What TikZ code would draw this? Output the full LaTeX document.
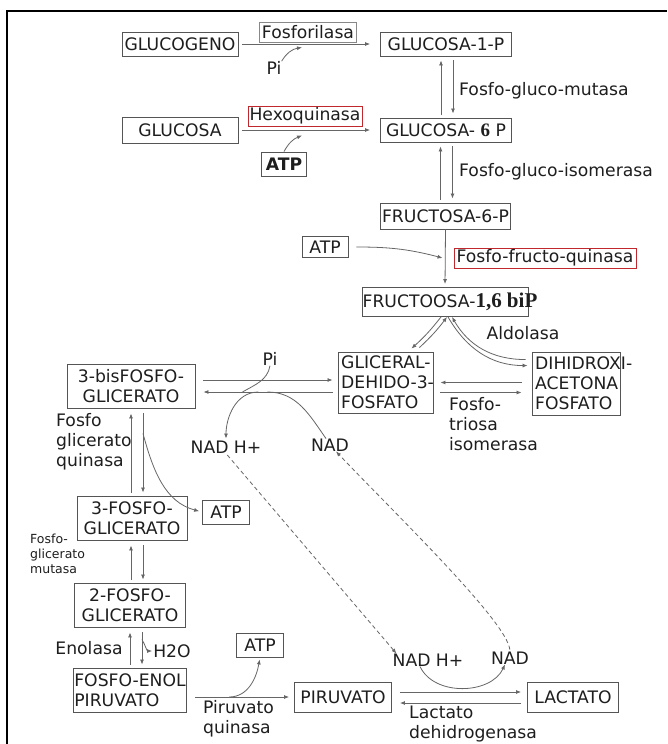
\documentclass[tikz,border=0pt]{standalone}
\usepackage{fontspec}
\setmainfont{DejaVu Sans}
\newfontfamily\serifbf{Liberation Serif}
\usetikzlibrary{arrows.meta}
\definecolor{ln}{HTML}{666666}
\definecolor{bx}{HTML}{555555}
\definecolor{tx}{HTML}{1E1E1E}
\definecolor{rd}{HTML}{C0282D}
\begin{document}
\begin{tikzpicture}[x=1pt,y=-1pt,
  every node/.style={text=tx, font=\fontsize{17.2}{20}\selectfont},
  box/.style={draw=bx, line width=0.9pt, inner sep=0pt, align=center},
  redbox/.style={draw=rd, line width=1pt, inner sep=0pt},
  lbl/.style={inner sep=0pt},
  smalllbl/.style={inner sep=0pt, font=\fontsize{12.5}{15}\selectfont},
  arr/.style={draw=ln, line width=0.8pt, -{Latex[length=5pt,width=4pt]}},
  lineonly/.style={draw=ln, line width=0.8pt},
  dsh/.style={dash pattern=on 4pt off 3pt}]
\useasboundingbox (0,0) rectangle (667,744);
\fill[white] (0,0) rectangle (667,744);
\draw[line width=2.5pt, black] (7,744) -- (7,11) -- (667,11);

% ---------- top ----------
\node[box, minimum width=116, minimum height=24] (glucogeno) at (180,44) {GLUCOGENO};
\node[box, draw=bx!70, minimum width=97, minimum height=20] (fosforilasa) at (308,32) {Fosforilasa};
\node[box, minimum width=131, minimum height=24] (g1p) at (446,44) {GLUCOSA-1-P};
\node[lbl] (pi1) at (274,68) {Pi};
\node[lbl, anchor=west] (mutasa) at (459,91) {Fosfo-gluco-mutasa};
\node[box, minimum width=116, minimum height=26] (glucosa) at (180,130) {GLUCOSA};
\node[redbox, minimum width=114, minimum height=20] (hexo) at (305,116) {Hexoquinasa};
\node[box, minimum width=131, minimum height=24] (g6p) at (446,130) {GLUCOSA- {\serifbf\bfseries\fontsize{19}{19}\selectfont 6} P};
\node[box, minimum width=45, minimum height=24] (atp1) at (284,164) {\bfseries ATP};
\node[lbl, anchor=west] (isomerasa) at (459,172) {Fosfo-gluco-isomerasa};
\node[box, minimum width=130, minimum height=26] (f6p) at (445.5,216) {FRUCTOSA-6-P};
\node[box, minimum width=46, minimum height=21] (atp2) at (325,247) {ATP};
\node[redbox, minimum width=182, minimum height=20] (pfk) at (545,258) {Fosfo-fructo-quinasa};
\node[box, minimum width=166, minimum height=29] (f16) at (445,302) {};
\node[lbl] (f16t) at (450,302) {FRUCTOOSA-{\serifbf\bfseries\fontsize{21}{21}\selectfont 1,6 biP}};

% ---------- middle ----------
\node[lbl] (aldolasa) at (523,333) {Aldolasa};
\node[box, minimum width=95, minimum height=61] (gald) at (385.5,382.5) {};
\node[lbl, anchor=west, align=left] (galdt) at (341,382.5) {GLICERAL-\\DEHIDO-3-\\FOSFATO};
\node[box, minimum width=88, minimum height=63] (dhap) at (576,383.5) {};
\node[lbl, anchor=west, align=left] (dhapt) at (535,383.5) {DIHIDROXI-\\ACETONA\\FOSFATO};
\node[lbl, anchor=north west, align=left] (tpi) at (449,397) {Fosfo-\\triosa\\isomerasa};
\node[box, minimum width=128, minimum height=44] (bisfg) at (131,386) {3-bisFOSFO-\\GLICERATO};
\node[lbl] (pi2) at (270,359) {Pi};
\node[lbl] (nadh1) at (226,447) {NAD H+};
\node[lbl] (nad1) at (330,445) {NAD};
\node[lbl, anchor=north west, align=left] (pgk) at (56,413) {Fosfo\\glicerato\\quinasa};
\node[box, minimum width=47, minimum height=24] (atp3) at (226,512) {ATP};
\node[box, minimum width=110, minimum height=44] (pg3) at (132,518) {3-FOSFO-\\GLICERATO};
\node[smalllbl, anchor=north west, align=left] (pgm) at (30,534) {Fosfo-\\glicerato\\mutasa};
\node[box, minimum width=111, minimum height=44] (pg2) at (130,605) {2-FOSFO-\\GLICERATO};

% ---------- bottom ----------
\node[lbl] (enolasa) at (89,648) {Enolasa};
\node[lbl] (h2o) at (172,651) {H2O};
\node[box, minimum width=112, minimum height=44, align=left, inner sep=1pt] (pep) at (130,690) {FOSFO-ENOL\\PIRUVATO};
\node[box, minimum width=47, minimum height=24] (atp4) at (260,645) {ATP};
\node[box, minimum width=97, minimum height=30] (pir) at (343,697) {PIRUVATO};
\node[box, minimum width=91, minimum height=30] (lac) at (573,697) {LACTATO};
\node[lbl, anchor=north west, align=left] (pk) at (203,700) {Piruvato\\quinasa};
\node[lbl] (nadh2) at (428,660) {NAD H+};
\node[lbl] (nad2) at (510,658) {NAD};
\node[lbl, anchor=north west, align=left] (ldh) at (409,706) {Lactato\\dehidrogenasa};

% ---------- connectors: top ----------
\draw[arr, shorten <=4pt, shorten >=10pt] (glucogeno.east) -- (g1p.west);
\coordinate (pj) at ([shift={(-6,5)}]fosforilasa.south);
\draw[arr] (pi1.north east) to[bend left=25] (pj);
\draw[arr, shorten <=4pt, shorten >=10pt] (glucosa.east) -- (glucosa.east -| g6p.west);
\coordinate (hj) at ([shift={(-3,9)}]hexo.south);
\draw[arr] (atp1.north) to[bend left=20] (hj);
\draw[arr, shorten <=3pt, shorten >=4pt] ([xshift=-5]g6p.north) -- ([xshift=-5]g1p.south);
\draw[arr, shorten <=4pt, shorten >=4pt] ([xshift=7]g1p.south) -- ([xshift=7]g6p.north);
\draw[arr, shorten <=3pt, shorten >=4pt] ([xshift=-5]f6p.north) -- ([xshift=-5]f6p.north |- g6p.south);
\draw[arr, shorten <=4pt, shorten >=4pt] ([xshift=7]f6p.north |- g6p.south) -- ([xshift=7]f6p.north);
\draw[arr, shorten >=3pt] (f6p.south) -- (f16.north);
\coordinate (pfkj) at ([xshift=-3]f6p.south |- pfk.west);
\draw[arr, shorten <=8pt] (atp2.east) to[out=0, in=165] (pfkj);

% ---------- aldolasa ----------
\draw[arr] ([xshift=-4]f16.south) to[bend left=5] ([shift={(-22,-3)}]gald.north east);
\draw[arr] ([shift={(-14,-4)}]gald.north east) to[bend right=5] ([xshift=2]f16.south);
\draw[arr] ([shift={(-6,8)}]dhap.north west) to[out=180, in=-60] ([xshift=7]f16.south);
\draw[arr] ([xshift=3]f16.south) to[out=-60, in=180] ([shift={(-4,14)}]dhap.north west);

% ---------- triose / G3P ----------
\draw[arr, shorten <=8pt, shorten >=5pt] ([yshift=6]bisfg.east) -- ([yshift=6]bisfg.east -| gald.west);
\draw[arr, shorten <=5pt, shorten >=8pt] ([yshift=-6]bisfg.east -| gald.west) -- ([yshift=-6]bisfg.east);
\draw[arr, shorten <=10pt, shorten >=7pt] (gald.east -| dhap.west) -- (gald.east);
\draw[arr, shorten <=7pt, shorten >=10pt] ([yshift=-10]gald.east) -- ([yshift=-10]gald.east -| dhap.west);
\coordinate (pij) at ([yshift=-6,xshift=47]bisfg.east);
\coordinate (nadhs) at ([yshift=-6,xshift=63]bisfg.east);
\coordinate (nadj) at ([yshift=-6,xshift=72]bisfg.east);
\draw[lineonly] (pi2.south) to[out=-100, in=30] (pij);
\draw[arr, shorten >=2pt] (nadhs) to[out=180, in=90] (nadh1.north);
\draw[lineonly] ([xshift=-4]nad1.north) to[out=125, in=0] (nadj);

% ---------- lower glycolysis ----------
\draw[arr, shorten <=3pt, shorten >=5pt] (bisfg.south |- pg3.north) -- (bisfg.south);
\draw[arr, shorten <=5pt, shorten >=3pt] ([xshift=12]bisfg.south) -- ([xshift=12]bisfg.south |- pg3.north);
\coordinate (pgkc) at ([shift={(12,25)}]bisfg.south);
\draw[arr, shorten >=3pt] (pgkc) to[out=-75, in=165] (atp3.west);
\draw[arr, shorten <=3pt, shorten >=5pt] (bisfg.south |- pg2.north) -- (bisfg.south |- pg3.south);
\draw[arr, shorten <=5pt, shorten >=3pt] ([xshift=12]bisfg.south |- pg3.south) -- ([xshift=12]bisfg.south |- pg2.north);
\draw[arr, shorten <=3pt, shorten >=5pt] (pg2.south |- pep.north) -- (pg2.south);
\draw[arr, shorten <=5pt, shorten >=3pt] ([xshift=12]pg2.south) -- ([xshift=12]pg2.south |- pep.north);
\coordinate (h2oc) at ([shift={(12,12)}]pg2.south);
\draw[arr, shorten >=1pt] (h2oc) to[out=-60, in=180] (h2o.west);
\draw[arr, shorten <=8pt, shorten >=5pt] (pep.east |- pir.west) -- (pir.west);
\coordinate (pkc) at ([xshift=42]pep.east |- pir.west);
\draw[arr, shorten >=2pt] (pkc) to[out=0, in=-100] (atp4.south);
\draw[arr, shorten <=8pt, shorten >=6pt] ([yshift=5]pir.east) -- ([yshift=5]pir.east -| lac.west);
\draw[arr, shorten <=6pt, shorten >=8pt] ([yshift=-6]pir.east -| lac.west) -- ([yshift=-6]pir.east);
\draw[arr] ([xshift=-8]nadh2.south) to[out=-65, in=-115] ([xshift=-5]nad2.south);

% ---------- NAD shuttle (dashed) ----------
\draw[arr, dsh, shorten <=2pt] (nadh1.south) -- ([xshift=4]nadh2.north west);
\draw[arr, dsh, shorten <=2pt] (nad2.north) .. controls +(-3,-30) and +(60,63) .. ([xshift=6]nad1.south);
\end{tikzpicture}
\end{document}
